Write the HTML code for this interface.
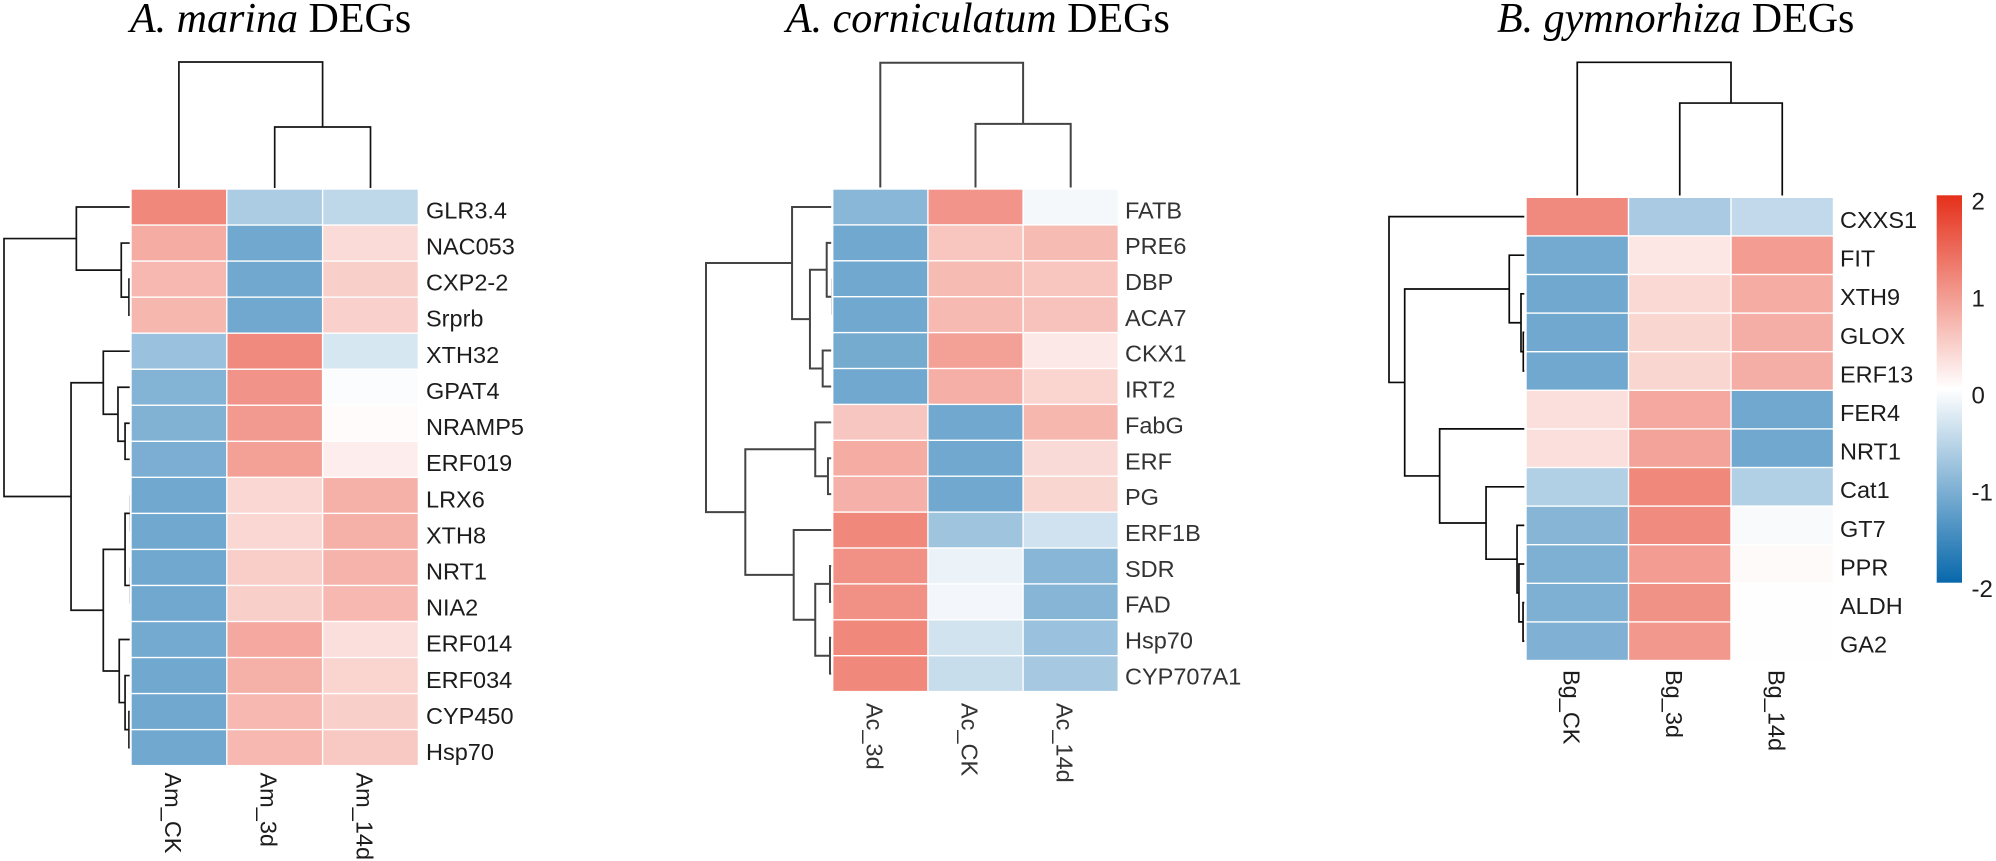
<!DOCTYPE html>
<html lang="en">
<head>
<meta charset="utf-8">
<title>DEG heatmaps</title>
<style>
html,body{margin:0;padding:0;background:#fff;width:1996px;height:861px;overflow:hidden}
svg{display:block}
text{font-family:"Liberation Sans",Arial,sans-serif}
.title{font-family:"Liberation Serif","Times New Roman",serif;font-size:42px;fill:#000}
.title .it{font-style:italic}
</style>
</head>
<body>
<svg id="chart" xmlns="http://www.w3.org/2000/svg" width="1996" height="861" viewBox="0 0 1996 861">
  <rect width="1996" height="861" fill="#fff"/>
  <text class="title" x="130" y="32"><tspan class="it">A. marina</tspan> DEGs</text>
  <text class="title" x="786" y="32"><tspan class="it">A. corniculatum</tspan> DEGs</text>
  <text class="title" x="1497" y="32"><tspan class="it">B. gymnorhiza</tspan> DEGs</text>
  <defs>
    <linearGradient id="legendGradient" x1="0" y1="0" x2="0" y2="1">
      <stop offset="0" stop-color="#e5301a"/>
      <stop offset="0.5" stop-color="#ffffff"/>
      <stop offset="1" stop-color="#0868ab"/>
    </linearGradient>
  </defs>
</svg>
<script>
// ---------- A. marina ----------
const amColumns = ["Am_CK", "Am_3d", "Am_14d"];
const amGenes = ["GLR3.4","NAC053","CXP2-2","Srprb","XTH32","GPAT4","NRAMP5","ERF019","LRX6","XTH8","NRT1","NIA2","ERF014","ERF034","CYP450","Hsp70"];
const amValues = [
  [1.15,-0.67,-0.52],[0.80,-1.15,0.35],[0.69,-1.15,0.46],[0.70,-1.15,0.45],
  [-0.82,1.13,-0.32],[-1.00,1.04,-0.04],[-1.02,0.98,0.04],[-1.07,0.92,0.17],
  [-1.15,0.39,0.76],[-1.15,0.39,0.76],[-1.15,0.48,0.73],[-1.15,0.46,0.69],
  [-1.12,0.84,0.31],[-1.15,0.76,0.42],[-1.15,0.69,0.46],[-1.15,0.69,0.53]
];
const amRowMerges = [[-3,-4],[-2,1],[-1,2],[-7,-8],[-6,4],[-5,5],[-9,-10],[-11,-12],[7,8],[-15,-16],[-14,10],[-13,11],[9,12],[6,13],[3,14]];
const amRowHeights = [0.12,0.73,4.28,0.43,0.99,2.15,0,0,0.43,0.12,0.43,0.89,2.15,4.70,10];
const amColMerges = [[-2,-3],[-1,1]];
const amColHeights = [4.84,10];

// ---------- A. corniculatum ----------
const acColumns = ["Ac_3d", "Ac_CK", "Ac_14d"];
const acGenes = ["FATB","PRE6","DBP","ACA7","CKX1","IRT2","FabG","ERF","PG","ERF1B","SDR","FAD","Hsp70","CYP707A1"];
const acValues = [
  [-0.96,1.03,-0.09],[-1.15,0.56,0.66],[-1.15,0.66,0.56],[-1.15,0.67,0.59],
  [-1.11,0.91,0.22],[-1.15,0.77,0.42],[0.55,-1.15,0.70],[0.80,-1.15,0.36],
  [0.75,-1.15,0.40],[1.15,-0.78,-0.38],[1.07,-0.16,-0.97],[1.07,-0.10,-0.98],
  [1.15,-0.37,-0.82],[1.15,-0.45,-0.72]
];
const acRowMerges = [[-3,-4],[-2,1],[-5,-6],[2,3],[-1,4],[-8,-9],[-7,6],[-11,-12],[-13,-14],[8,9],[-10,10],[7,11],[5,12]];
const acRowHeights = [0,0.42,0.74,1.75,3.17,0.32,1.33,0.16,0.16,1.33,3.04,6.88,10];
const acColMerges = [[-2,-3],[-1,1]];
const acColHeights = [5.1,10];

// ---------- B. gymnorhiza ----------
const bgColumns = ["Bg_CK", "Bg_3d", "Bg_14d"];
const bgGenes = ["CXXS1","FIT","XTH9","GLOX","ERF13","FER4","NRT1","Cat1","GT7","PPR","ALDH","GA2"];
const bgValues = [
  [1.13,-0.70,-0.50],[-1.12,0.23,0.95],[-1.15,0.37,0.80],[-1.15,0.40,0.78],
  [-1.15,0.40,0.78],[0.31,0.84,-1.15],[0.31,0.89,-1.15],[-0.63,1.15,-0.62],
  [-0.98,1.12,-0.06],[-1.05,0.96,0.05],[-1.05,1.05,-0.01],[-1.03,1.00,0.01]
];
const bgRowMerges = [[-4,-5],[-3,1],[-2,2],[-6,-7],[-11,-12],[-10,5],[-9,6],[-8,7],[4,8],[3,9],[-1,10]];
const bgRowHeights = [0.16,0.33,1.19,0,0.18,0.48,0.62,2.89,6.29,8.85,10];
const bgColMerges = [[-2,-3],[-1,1]];
const bgColHeights = [6.94,10];

// ---------- Legend ----------
const legendTicks = [2, 1, 0, -1, -2];

const NS = "http://www.w3.org/2000/svg";
const svg = document.getElementById("chart");

function mk(tag, parent) {
  const el = document.createElementNS(NS, tag);
  parent.appendChild(el);
  return el;
}

function colorOf(v) {
  const neg = [8, 104, 171], pos = [229, 48, 26];
  const t = Math.min(1, Math.abs(v) / 2);
  const end = v < 0 ? neg : pos;
  const c = end.map(e => Math.round(255 + (e - 255) * t));
  return "rgb(" + c.join(",") + ")";
}

function drawTree(group, merges, heights, leafPos, heightPos, horizontal, color, width) {
  const nodePos = [];
  const nodeH = [];
  function resolve(id) {
    if (id < 0) return { p: leafPos(-id - 1), h: heightPos(null) };
    return { p: nodePos[id - 1], h: nodeH[id - 1] };
  }
  merges.forEach((m, i) => {
    const a = resolve(m[0]);
    const b = resolve(m[1]);
    const h = heightPos(heights[i]);
    let d;
    if (horizontal) {
      d = "M" + a.h + " " + a.p + "H" + h + "V" + b.p + "H" + b.h;
    } else {
      d = "M" + a.p + " " + a.h + "V" + h + "H" + b.p + "V" + b.h;
    }
    const path = mk("path", group);
    
    
    path.setAttribute("d", d);
    path.setAttribute("fill", "none");
    path.setAttribute("stroke", color);
    path.setAttribute("stroke-width", width);
    path.setAttribute("stroke-linejoin", "miter");
    nodePos.push((a.p + b.p) / 2);
    nodeH.push(h);
  });
}

function drawPanel(id, columns, genes, values, rowMerges, rowHeights, colMerges, colHeights, L) {
  const g = mk("g", svg);
  
  

  const xOf = c => L.left + c * L.colW;
  const yOf = r => L.top + r * L.rowH;
  const rowCenter = r => yOf(r) + L.rowH / 2;
  const colCenter = c => xOf(c) + L.colW / 2;

  values.forEach((row, r) => {
    row.forEach((v, c) => {
      const cell = mk("rect", g);
      
      
      cell.setAttribute("x", xOf(c) + 0.7);
      cell.setAttribute("y", yOf(r) + 0.7);
      cell.setAttribute("width", L.colW - 1.4);
      cell.setAttribute("height", L.rowH - 1.4);
      cell.setAttribute("fill", colorOf(v));
    });
  });

  genes.forEach((name, r) => {
    const t = mk("text", g);
    
    
    t.setAttribute("x", L.labelX);
    t.setAttribute("y", L.labelY + r * L.labelStep);
    t.setAttribute("font-size", L.font);
    t.setAttribute("fill", L.textColor);
    t.textContent = name;
  });

  columns.forEach((name, c) => {
    const t = mk("text", g);
    
    
    t.setAttribute("transform", "translate(" + (colCenter(c) + L.colBase) + "," + L.colLabelY + ") rotate(90)");
    t.setAttribute("font-size", L.font);
    t.setAttribute("fill", L.textColor);
    t.textContent = name;
  });

  const clipId = id + "-row-clip";
  const clip = mk("clipPath", g);
  clip.setAttribute("id", clipId);
  const clipRect = mk("rect", clip);
  clipRect.setAttribute("x", 0);
  clipRect.setAttribute("y", 0);
  clipRect.setAttribute("width", L.rowClip);
  clipRect.setAttribute("height", 861);

  const rowTree = mk("g", g);
  
  
  rowTree.setAttribute("clip-path", "url(#" + clipId + ")");
  const rowScale = h => (h === null ? L.rowLeaf : L.rowLeaf - (h / 10) * (L.rowLeaf - L.rowRoot));
  drawTree(rowTree, rowMerges, rowHeights, rowCenter, rowScale, true, L.lineColor, L.lineW);

  const colTree = mk("g", g);
  
  
  const colScale = h => (h === null ? L.colLeaf : L.colLeaf - (h / 10) * (L.colLeaf - L.colRoot));
  drawTree(colTree, colMerges, colHeights, colCenter, colScale, false, L.lineColor, L.lineW);
}

drawPanel("a-marina", amColumns, amGenes, amValues, amRowMerges, amRowHeights, amColMerges, amColHeights, {
  left: 131, top: 189, colW: 95.8, rowH: 36.04, labelX: 426, labelY: 218.3, labelStep: 36.12,
  font: 23.5, textColor: "#1c1c1c", colBase: -14, colLabelY: 772.5,
  rowLeaf: 130.5, rowRoot: 4, rowClip: 129.7, colLeaf: 188, colRoot: 62, lineColor: "#141414", lineW: 1.7
});

drawPanel("a-corniculatum", acColumns, acGenes, acValues, acRowMerges, acRowHeights, acColMerges, acColHeights, {
  left: 832.7, top: 189, colW: 95.2, rowH: 35.9, labelX: 1125, labelY: 218.3, labelStep: 35.85,
  font: 23.5, textColor: "#333333", colBase: -14, colLabelY: 703,
  rowLeaf: 832, rowRoot: 706, rowClip: 831.2, colLeaf: 187.5, colRoot: 62.7, lineColor: "#444444", lineW: 2
});

drawPanel("b-gymnorhiza", bgColumns, bgGenes, bgValues, bgRowMerges, bgRowHeights, bgColMerges, bgColHeights, {
  left: 1526, top: 197.3, colW: 102.5, rowH: 38.6, labelX: 1840, labelY: 228, labelStep: 38.6,
  font: 23.5, textColor: "#1c1c1c", colBase: -14, colLabelY: 670,
  rowLeaf: 1525.5, rowRoot: 1389, rowClip: 1524.3, colLeaf: 195.5, colRoot: 62.3, lineColor: "#0a0a0a", lineW: 1.7
});

// Legend
const legendTop = 195.3, legendBottom = 582.7;
const legendY = v => legendTop + ((2 - v) / 4) * (legendBottom - legendTop);
const legend = mk("g", svg);


const bar = mk("rect", legend);


bar.setAttribute("x", 1936.7);
bar.setAttribute("y", legendTop);
bar.setAttribute("width", 25.3);
bar.setAttribute("height", legendBottom - legendTop);
bar.setAttribute("fill", "url(#legendGradient)");
legendTicks.forEach(v => {
  const t = mk("text", legend);
  
  
  t.setAttribute("x", 1971.5);
  t.setAttribute("y", legendY(v) + 14.4);
  t.setAttribute("font-size", 24);
  t.setAttribute("fill", "#1c1c1c");
  t.textContent = String(v);
});
</script>
</body>
</html>
